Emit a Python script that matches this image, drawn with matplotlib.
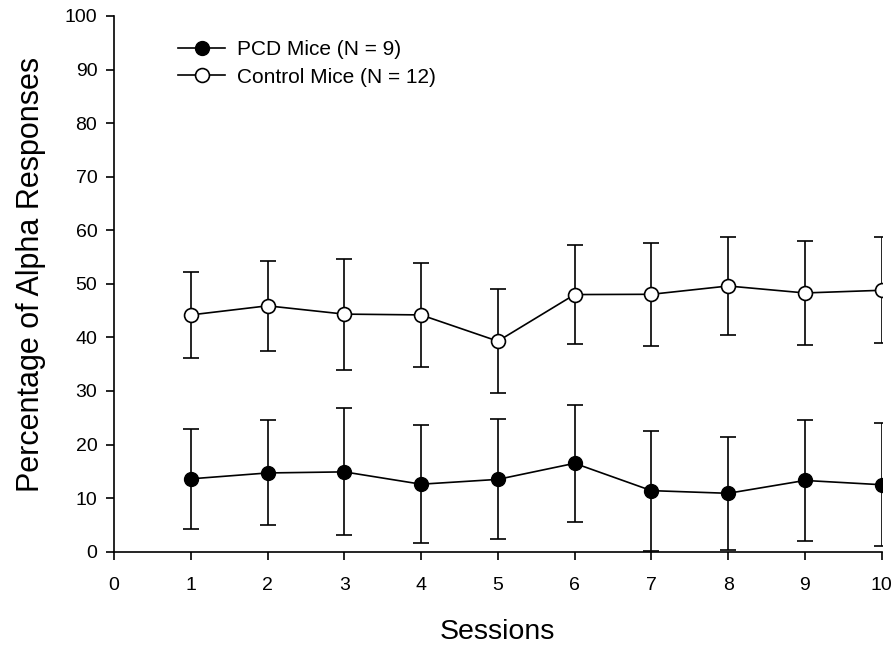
import matplotlib
matplotlib.use("Agg")
import matplotlib.pyplot as plt

plt.rcParams['font.family'] = ['Liberation Sans', 'DejaVu Sans']

sessions = [1, 2, 3, 4, 5, 6, 7, 8, 9, 10]
pcd_mean = [13.6, 14.7, 14.9, 12.6, 13.5, 16.5, 11.4, 10.9, 13.3, 12.5]
pcd_err = [9.35, 9.8, 11.85, 11.0, 11.2, 10.9, 11.2, 10.5, 11.25, 11.5]
ctrl_mean = [44.2, 45.9, 44.35, 44.2, 39.3, 48.0, 48.05, 49.6, 48.3, 48.8]
ctrl_err = [8.1, 8.4, 10.35, 9.7, 9.65, 9.3, 9.65, 9.1, 9.7, 9.9]
pcd_label = "PCD Mice (N = 9)"
ctrl_label = "Control Mice (N = 12)"
xticks = list(range(0, 11))
yticks = list(range(0, 101, 10))

fig = plt.figure(figsize=(8.96, 6.46), dpi=100)
ax = fig.add_axes([114/896, 1 - 551.7/646, (881.7 - 114)/896, (551.7 - 16)/646])

ax.errorbar(sessions, pcd_mean, yerr=pcd_err, color='black', marker='o', markersize=10,
            markerfacecolor='black', markeredgecolor='black', linewidth=1.2,
            elinewidth=1.2, capsize=6, capthick=1.2, label=pcd_label, zorder=3)
ax.errorbar(sessions, ctrl_mean, yerr=ctrl_err, color='black', marker='o', markersize=10,
            markerfacecolor='white', markeredgecolor='black', markeredgewidth=1.2,
            linewidth=1.2, elinewidth=1.2, capsize=6, capthick=1.2, label=ctrl_label, zorder=3)

ax.set_xlim(0, 10)
ax.set_ylim(0, 100)
ax.set_xticks(xticks)
ax.set_yticks(yticks)
for s in ['top', 'right']:
    ax.spines[s].set_visible(False)
for s in ['left', 'bottom']:
    ax.spines[s].set_linewidth(1.2)
ax.tick_params(direction='out', length=6, width=1.2, labelsize=14)
ax.tick_params(axis='x', pad=12)
ax.tick_params(axis='y', pad=6)
ax.set_xlabel("Sessions", fontsize=20.5, labelpad=18)
ax.set_ylabel("Percentage of Alpha Responses", fontsize=22)
ax.yaxis.set_label_coords(-0.089, 0.517)

handles, labels = ax.get_legend_handles_labels()
handles = [h[0] for h in handles]
leg = ax.legend(handles, labels, loc='upper left', bbox_to_anchor=(178/896, 1 - 40/646),
                bbox_transform=fig.transFigure, frameon=False, fontsize=15,
                handlelength=2.26, handletextpad=0.58, labelspacing=0.42, borderaxespad=0,
                borderpad=0)

fig.savefig("out.png", dpi=100)
